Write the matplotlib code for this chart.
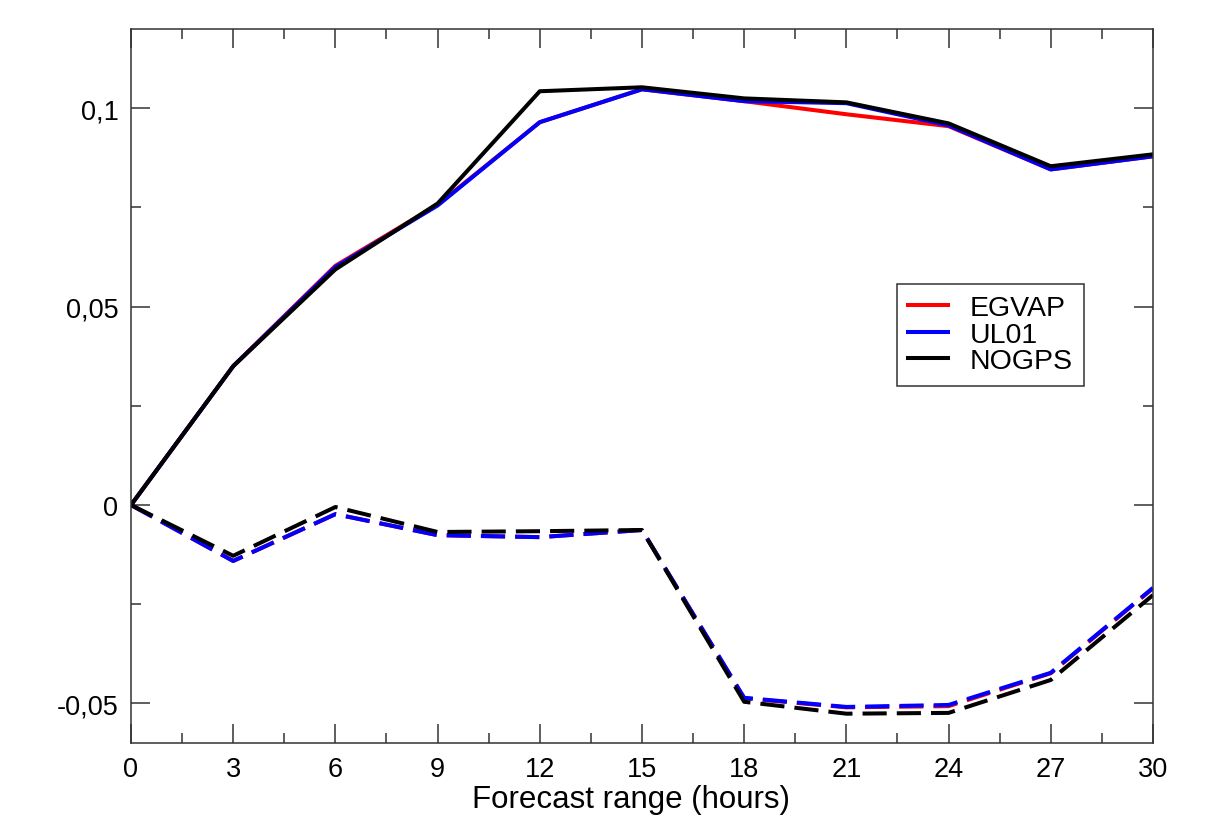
import matplotlib
matplotlib.use('Agg')
import matplotlib.pyplot as plt
import matplotlib.ticker as ticker

# Forecast range (hours)
hours = [0, 3, 6, 9, 12, 15, 18, 21, 24, 27, 30]

# Solid curves (upper)
egvap_solid = [0, 0.0350, 0.0603, 0.0757, 0.0965, 0.1048, 0.1018, 0.0985, 0.0955, 0.0846, 0.0879]
ul01_solid = [0, 0.0350, 0.0600, 0.0755, 0.0965, 0.1048, 0.1018, 0.1013, 0.0957, 0.0846, 0.0879]
nogps_solid = [0, 0.0350, 0.0594, 0.0760, 0.1043, 0.1053, 0.1025, 0.1015, 0.0962, 0.0854, 0.0884]

# Dashed curves (lower)
egvap_dash = [0, -0.0141, -0.0023, -0.0076, -0.0081, -0.0063, -0.0487, -0.0510, -0.0507, -0.0424, -0.0210]
ul01_dash = [0, -0.0141, -0.0023, -0.0076, -0.0081, -0.0063, -0.0486, -0.0509, -0.0504, -0.0423, -0.0209]
nogps_dash = [0, -0.0128, -0.0005, -0.0068, -0.0066, -0.0063, -0.0496, -0.0526, -0.0524, -0.0441, -0.0227]

yticks = [-0.05, 0, 0.05, 0.1]
ytick_labels = ['-0,05', '0', '0,05', '0,1']

plt.rcParams['font.family'] = ['Liberation Sans', 'DejaVu Sans']

fig = plt.figure(figsize=(12.22, 8.28), dpi=100)
ax = fig.add_axes([0.1072, 0.1014, 0.8363, 0.8624])

lw = 2.9
ax.plot(hours, egvap_solid, color='red', lw=lw, label='EGVAP')
ax.plot(hours, ul01_solid, color='blue', lw=lw, label='UL01')
ax.plot(hours, nogps_solid, color='black', lw=lw, label='NOGPS')
ax.plot(hours, egvap_dash, color='red', lw=lw, dashes=(6, 2.5))
ax.plot(hours, ul01_dash, color='blue', lw=lw, dashes=(6, 2.5))
ax.plot(hours, nogps_dash, color='black', lw=lw, dashes=(6, 2.5))

ax.set_xlim(0, 30)
ax.set_ylim(-0.06, 0.12)
ax.set_xticks(hours)
ax.xaxis.set_minor_locator(ticker.MultipleLocator(1.5))
ax.set_yticks(yticks)
ax.set_yticklabels(ytick_labels)
ax.yaxis.set_minor_locator(ticker.MultipleLocator(0.025))

ax.tick_params(which='both', direction='in', top=True, right=True, width=1.1,
               labelsize=19.5, colors='#333333', labelcolor='black')
ax.tick_params(which='major', length=14, pad=9)
ax.tick_params(which='minor', length=7)
for s in ax.spines.values():
    s.set_linewidth(1.1)
    s.set_color('#333333')

ax.set_xlabel('Forecast range (hours)', fontsize=22.5)
ax.xaxis.set_label_coords(0.489, -0.078, transform=ax.transAxes)
ax.xaxis.label.set_va('center')

leg = ax.legend(loc='upper left', bbox_to_anchor=(0.7495, 0.643), fontsize=20.5,
                frameon=True, fancybox=False, edgecolor='#333333', framealpha=1,
                handlelength=1.4, handletextpad=0.75, labelspacing=0.02,
                borderpad=0.4, borderaxespad=0)
leg.get_frame().set_linewidth(1.1)

fig.savefig('out.png', dpi=100)
